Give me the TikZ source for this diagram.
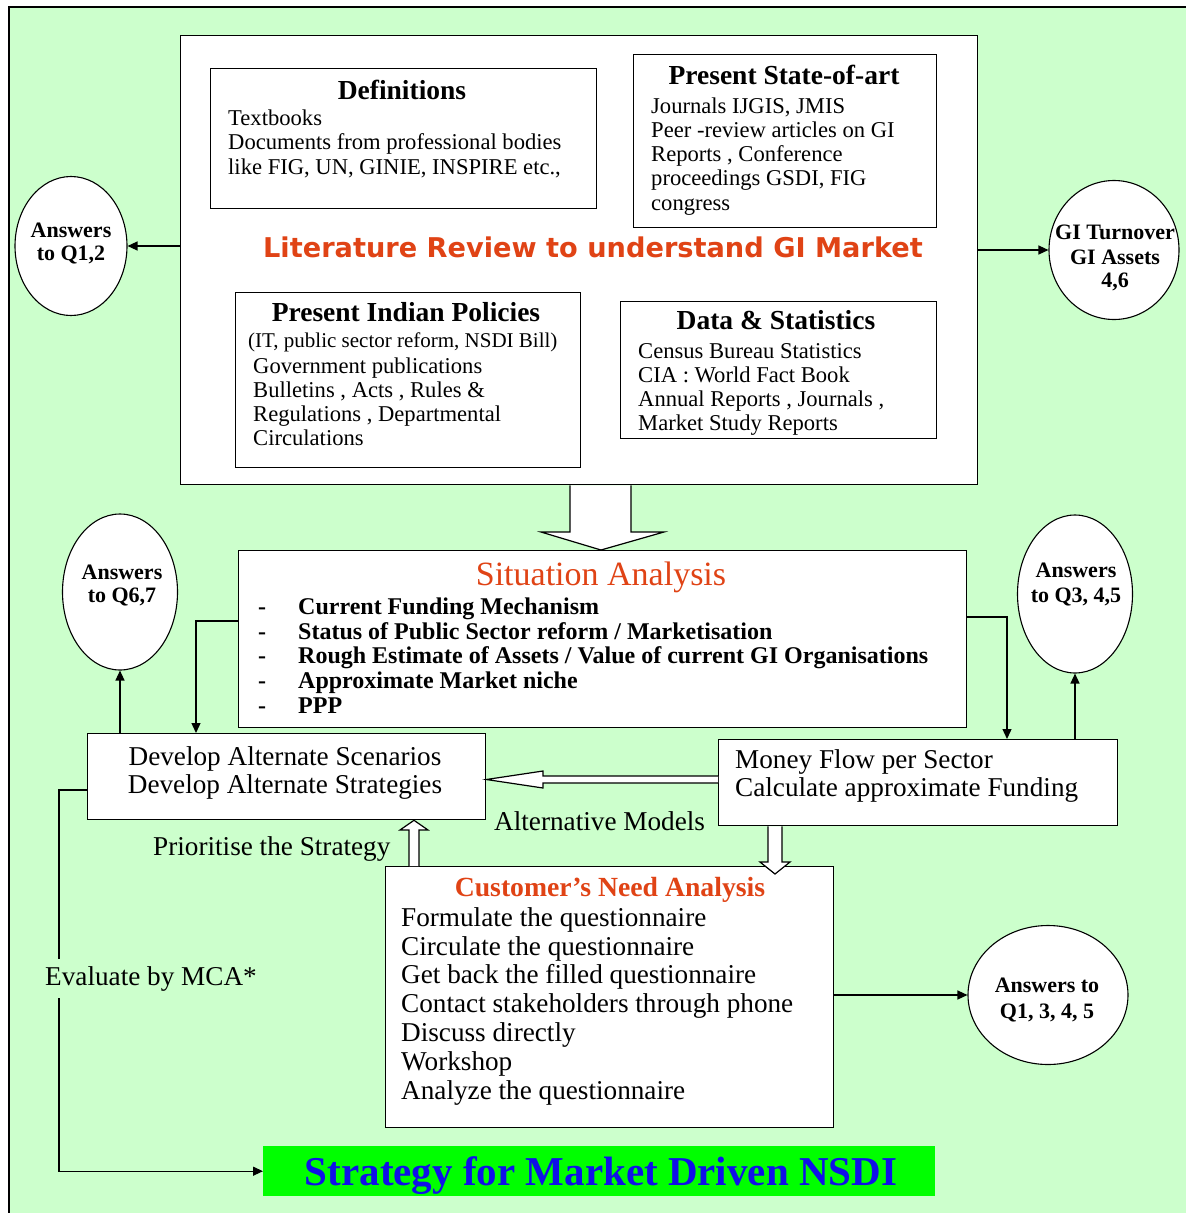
\documentclass[tikz,border=0pt]{standalone}
\usepackage{fontspec}
\setmainfont{Liberation Serif}
\newfontfamily\widesans{DejaVu Sans}
\usetikzlibrary{shapes.geometric,arrows.meta,calc}

\definecolor{paleGreen}{HTML}{CCFFCC}
\definecolor{limeFill}{HTML}{00FF00}
\definecolor{headRed}{HTML}{E04315}
\definecolor{deepBlue}{HTML}{1010E8}
\newcommand\pfs[1]{\fontsize{#1pt}{#1pt}\selectfont}

\begin{document}
\begin{tikzpicture}[x=1pt,y=-1pt,
  box/.style={draw, fill=white, anchor=north west, inner sep=0pt, line width=1.3pt},
  oval/.style={draw, fill=white, ellipse, inner sep=0pt, line width=1.1pt},
  txt/.style={inner sep=0pt, anchor=mid west, yshift=-6pt},
  ctxt/.style={inner sep=0pt, anchor=mid},
  subtitle/.style={ctxt, yshift=-6.5pt, font=\pfs{27.5}\bfseries},
  subbody/.style={txt, font=\pfs{22.6}},
  bigtxt/.style={font=\pfs{27.2}},
  ovaltxt/.style={ctxt, yshift=-5pt, font=\pfs{22}\bfseries},
  arr/.style={-{Triangle[length=10pt,width=9pt]}, line width=1.3pt},
  hollow/.style={draw, fill=white, line width=1.2pt, line join=miter}]

\useasboundingbox (0,0) rectangle (1186,1213);
\fill[white] (0,0) rectangle (1186,1213);
\draw[fill=paleGreen, line width=1.5pt] (9,7) rectangle (1196,1226);

% ---------- literature review block ----------
\node[box, minimum width=797pt, minimum height=449pt] (lit) at (180,35) {};
\node[box, minimum width=386pt, minimum height=140pt] (defs) at (210,68) {};
\node[box, minimum width=303pt, minimum height=173pt] (sota) at (633,54) {};
\node[box, minimum width=345pt, minimum height=175pt] (indp) at (235,292) {};
\node[box, minimum width=316pt, minimum height=137pt] (data) at (620,301) {};

\node[subtitle] (defsT) at (402,91) {Definitions};
\foreach \s [count=\i] in {Textbooks, Documents from professional bodies, {like FIG, UN, GINIE, INSPIRE etc.,}}
  \node[subbody] (defs\i) at (228,{117+24.5*(\i-1)}) {\s};

\node[subtitle] (sotaT) at (784,76) {Present State-of-art};
\foreach \s [count=\i] in {{Journals IJGIS, JMIS}, Peer -review articles on GI, {Reports , Conference}, {proceedings GSDI, FIG}, congress}
  \node[subbody] (sota\i) at (651,{105+24.2*(\i-1)}) {\s};

\node[ctxt, yshift=-7pt, font=\widesans\pfs{27.2}\bfseries, text=headRed] (litT) at (593,248) {Literature Review to understand GI Market};

\node[subtitle] (indpT) at (406,313) {Present Indian Policies};
\node[txt, font=\pfs{21}] (indp0) at (248,339) {(IT, public sector reform, NSDI Bill)};
\foreach \s [count=\i] in {Government publications, {Bulletins , Acts , Rules \&}, {Regulations , Departmental}, Circulations}
  \node[subbody] (indp\i) at (253,{365+24*(\i-1)}) {\s};

\node[subtitle] (dataT) at (776,321) {Data \& Statistics};
\foreach \s [count=\i] in {Census Bureau Statistics, CIA : World Fact Book, {Annual Reports , Journals ,}, Market Study Reports}
  \node[subbody] (data\i) at (638,{350+24*(\i-1)}) {\s};

% ---------- answer ovals ----------
\node[oval, minimum width=112pt, minimum height=139pt] (q12) at (71,246) {};
\node[ovaltxt] (q12a) at (71,230) {Answers};
\node[ovaltxt] (q12b) at (71,253) {to Q1,2};

\node[oval, minimum width=130pt, minimum height=139pt] (qgi) at (1114,250) {};
\node[ovaltxt] (qgia) at (1115,232) {GI Turnover};
\node[ovaltxt] (qgib) at (1115,257) {GI Assets};
\node[ovaltxt] (qgic) at (1115,280) {4,6};

\node[oval, minimum width=115pt, minimum height=156pt] (q67) at (120,592) {};
\node[ovaltxt] (q67a) at (122,572) {Answers};
\node[ovaltxt] (q67b) at (122,595) {to Q6,7};

\node[oval, minimum width=115pt, minimum height=158pt] (q345) at (1075,594) {};
\node[ovaltxt] (q345a) at (1076,570) {Answers};
\node[ovaltxt] (q345b) at (1076,595) {to Q3, 4,5};

\node[oval, minimum width=160pt, minimum height=139pt] (q1345) at (1048,995) {};
\node[ovaltxt] (q1345a) at (1047,985) {Answers to};
\node[ovaltxt] (q1345b) at (1047,1011) {Q1, 3, 4, 5};

% ---------- situation analysis ----------
\node[box, minimum width=728pt, minimum height=177pt] (sit) at (238,550) {};
\node[ctxt, yshift=-8pt, font=\pfs{34}, text=headRed] (sitT) at (601,575) {Situation Analysis};
\foreach \s [count=\i] in {Current Funding Mechanism, Status of Public Sector reform / Marketisation, Rough Estimate of Assets / Value of current GI Organisations, Approximate Market niche, PPP}{
  \node[txt, font=\pfs{24}\bfseries] (sitd\i) at (258,{606+24.8*(\i-1)}) {-};
  \node[txt, font=\pfs{24}\bfseries] (sit\i) at (298,{606+24.8*(\i-1)}) {\s};
}

% ---------- scenarios and funding ----------
\node[box, minimum width=398pt, minimum height=86pt] (dev) at (87,733) {};
\node[ctxt, yshift=-6pt, bigtxt] (dev1) at (285,757) {Develop Alternate Scenarios};
\node[ctxt, yshift=-6pt, bigtxt] (dev2) at (285,785) {Develop Alternate Strategies};

\node[box, minimum width=399pt, minimum height=86pt] (money) at (718,739) {};
\node[txt, bigtxt] (money1) at (735,760) {Money Flow per Sector};
\node[txt, bigtxt] (money2) at (735,788) {Calculate approximate Funding};

\node[txt, bigtxt] (altM) at (494,822) {Alternative Models};
\node[txt, bigtxt] (prio) at (153,847) {Prioritise the Strategy};

% ---------- customer's need analysis ----------
\node[box, minimum width=448pt, minimum height=261pt] (cust) at (385,866) {};
\node[ctxt, yshift=-6pt, font=\pfs{27.7}\bfseries, text=headRed] (custT) at (610,888) {Customer’s Need Analysis};
\foreach \s [count=\i] in {Formulate the questionnaire, Circulate the questionnaire, Get back the filled questionnaire, Contact stakeholders through phone, Discuss directly, Workshop, Analyze the questionnaire}
  \node[txt, bigtxt] (cust\i) at (401,{918+28.8*(\i-1)}) {\s};

% ---------- final strategy ----------
\node[anchor=north west, fill=limeFill, inner sep=0pt, minimum width=672pt, minimum height=50pt] (strat) at (263,1146) {};
\node[ctxt, yshift=-10pt, font=\pfs{41}\bfseries, text=deepBlue] (stratT) at (601,1173) {Strategy for Market Driven NSDI};

% ---------- connectors ----------
\draw[arr] (lit.west |- q12.east) -- (q12.east);
\draw[arr] (lit.east |- qgi.west) -- (qgi.west);
\draw[arr] (sit.west |- 0,621) -| (dev.north -| 196,0);
\draw[arr] (sit.east |- 0,617) -| (money.north -| 1007,0);
\draw[arr] (dev.north -| q67.south) -- (q67.south);
\draw[arr] (money.north -| q345.south) -- (q345.south);
\draw[arr] (cust.east |- q1345.west) -- (q1345.west);
\draw[arr] (dev.west |- 0,790) -- (59,790) |- (strat.west);
\node[ctxt, yshift=-6pt, bigtxt, fill=paleGreen, inner ysep=7pt] (mca) at (151,977) {Evaluate by MCA*};

% ---------- hollow block arrows ----------
\filldraw[hollow] (570,0 |- lit.south) -- (570,532) -- (541,532) -- (601,0 |- sit.north)
  -- (664,532) -- (631,532) -- (631,0 |- lit.south);
\filldraw[hollow] (money.west |- 0,776) -- (543,776) -- (543,771) -- (dev.east |- 0,779.5)
  -- (543,788) -- (543,783) -- (money.west |- 0,783);
\filldraw[hollow] (409,0 |- cust.north) -- (409,830) -- (400,830) -- (414,0 |- dev.south)
  -- (428,830) -- (419,830) -- (419,0 |- cust.north);
\filldraw[hollow] (768,0 |- money.south) -- (768,862) -- (760,862) -- (775,874)
  -- (790,862) -- (782,862) -- (782,0 |- money.south);
\end{tikzpicture}
\end{document}
